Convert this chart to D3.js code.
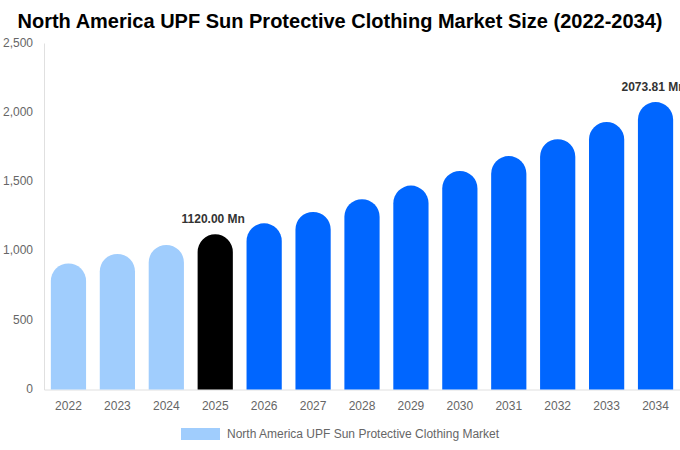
<!DOCTYPE html>
<html>
<head>
<meta charset="utf-8">
<script src="https://cdn.jsdelivr.net/npm/d3@7"></script>
<style>
    body { margin: 0; background: #fff; }
    text { font-family: "Liberation Sans", Arial, sans-serif; }
</style>
</head>
<body>
<div id="chart"></div>
<script>
// chart data
const years = ["2022", "2023", "2024", "2025", "2026", "2027", "2028", "2029", "2030", "2031", "2032", "2033", "2034"];
const marketSize = [910, 978, 1043, 1120, 1199, 1281, 1373, 1471, 1577, 1684, 1806, 1930, 2073.81];
const yTicks = [0, 500, 1000, 1500, 2000, 2500];
const labelledYears = ["2025", "2034"];
const seriesName = "North America UPF Sun Protective Clothing Market";

// historic / base year / forecast colours
function barColor(year) {
    if (+year < 2025) return "#a0cdfd";
    if (+year === 2025) return "#000000";
    return "#0066ff";
}

const width = 680;
const height = 450;
const margin = {top: 43, right: 0, bottom: 61, left: 44};

const svg = d3.select("#chart").append("svg")
    .attr("width", width)
    .attr("height", height);

const xScale = d3.scaleBand()
    .domain(years)
    .range([margin.left, width - margin.right])
    .paddingInner(0.28)
    .paddingOuter(0.14);

const yScale = d3.scaleLinear()
    .domain([0, 2500])
    .range([height - margin.bottom + 0.5, margin.top]);

// title
svg.append("text")
    .attr("x", width / 2)
    .attr("y", 28)
    .attr("text-anchor", "middle")
    .attr("font-size", 20)
    .attr("font-weight", "bold")
    .attr("fill", "#000")
    .text("North America UPF Sun Protective Clothing Market Size (2022-2034)");

// y axis (labels only + light line)
svg.append("g")
    .attr("transform", `translate(${margin.left},0)`)
    .call(d3.axisLeft(yScale).tickValues(yTicks).tickSize(0).tickPadding(11).tickFormat(d3.format(",")))
    .call(g => g.select(".domain").attr("stroke", "#e0e0e0"))
    .call(g => g.selectAll(".tick text")
        .attr("fill", "#666")
        .attr("font-size", 12)
        .attr("dy", "0.25em")
        .attr("font-family", "Liberation Sans, Arial, sans-serif"));

// x axis
svg.append("g")
    .attr("transform", `translate(0,${yScale(0)})`)
    .call(d3.axisBottom(xScale).tickSize(0).tickPadding(12))
    .call(g => g.select(".domain").attr("stroke", "#e0e0e0"))
    .call(g => g.selectAll(".tick text")
        .attr("fill", "#666")
        .attr("font-size", 12)
        .attr("font-family", "Liberation Sans, Arial, sans-serif"));

// rounded top bars
const bw = xScale.bandwidth();
const r = bw / 2;
const data = years.map((y, i) => ({year: y, value: marketSize[i]}));

svg.append("g")
    .selectAll("path")
    .data(data)
    .join("path")
    .attr("fill", d => barColor(d.year))
    .attr("d", d => {
        const x0 = xScale(d.year);
        const yTop = yScale(d.value);
        const y0 = yScale(0);
        return `M${x0},${y0}V${yTop + r}A${r},${r} 0 0 1 ${x0 + bw},${yTop + r}V${y0}Z`;
    });

// value labels (the last one runs past the right edge, as in the original)
svg.append("g")
    .selectAll("text")
    .data(data.filter(d => labelledYears.includes(d.year)))
    .join("text")
    .attr("x", d => xScale(d.year) + bw / 2 - 2)
    .attr("y", d => yScale(d.value) - 11)
    .attr("text-anchor", "middle")
    .attr("font-size", 12)
    .attr("font-weight", "bold")
    .attr("fill", "#333")
    .text(d => d3.format(".2f")(d.value) + " Mn");

// legend
const legend = svg.append("g");
legend.append("rect")
    .attr("x", 181)
    .attr("y", 428)
    .attr("width", 39)
    .attr("height", 12)
    .attr("fill", "#a0cdfd");
legend.append("text")
    .attr("x", 227)
    .attr("y", 438)
    .attr("font-size", 12)
    .attr("fill", "#666")
    .text(seriesName);
</script>
</body>
</html>
